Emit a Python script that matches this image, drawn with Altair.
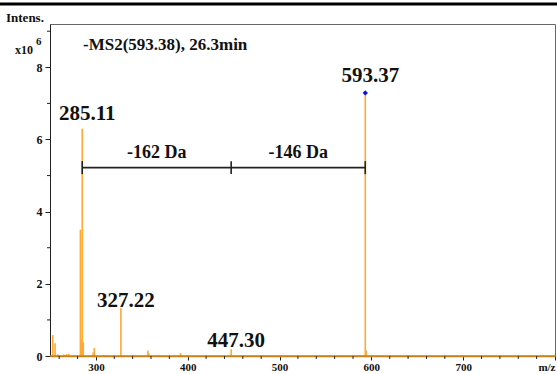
import altair as alt
import pandas as pd

# ---- data ----
mz = [253.0, 255.5, 258.5, 265.0, 268.0, 270.5, 283.1, 283.7, 284.4, 285.11, 286.2,
      297.0, 298.2, 309.0, 327.22, 341.0, 356.6, 357.6, 368.0, 392.1, 447.30, 593.37, 594.3]
intensity = [0.58, 0.35, 0.05, 0.04, 0.05, 0.06, 3.5, 0.45, 0.40, 6.3, 0.38,
             0.10, 0.22, 0.03, 1.33, 0.03, 0.15, 0.07, 0.03, 0.08, 0.19, 7.29, 0.15]

label_mz = [285.11, 327.22, 447.30, 593.37]
label_int = [6.3, 1.33, 0.19, 7.29]
label_text = ["285.11", "327.22", "447.30", "593.37"]
label_dy = [-9, -1, -2, -11]

precursor_mz = [593.37]
precursor_int = [7.29]

bracket_x = [285.11, 447.30, 593.37]
bracket_y = 5.22
bracket_labels = ["-162 Da", "-146 Da"]
bracket_label_x = [366.2, 520.3]

x_major = [300, 400, 500, 600, 700, 800]
x_minor = [260, 280, 320, 340, 360, 380, 420, 440, 460, 480, 520, 540, 560, 580,
           620, 640, 660, 680, 720, 740, 760, 780]
y_major = [0, 2, 4, 6, 8]
y_minor = [1, 3, 5, 7, 9]

FONT = "Liberation Serif"
ORANGE = "#FFA933"

xs = alt.Scale(domain=[250, 800], nice=False, zero=False)
ys = alt.Scale(domain=[0, 9.2], nice=False)

peaks = pd.DataFrame({"mz": mz, "i": intensity})

peak_layer = alt.Chart(peaks).mark_rule(color=ORANGE, strokeWidth=1.6).encode(
    x=alt.X("mz:Q", scale=xs, axis=alt.Axis(values=x_major, title=None,
             labelExpr="datum.value == 800 ? 'm/z' : datum.label", labelFlush=True,
             format="d")),
    y=alt.Y("i:Q", scale=ys, axis=alt.Axis(values=y_major, title=None, format="d")),
    y2=alt.datum(0),
)

baseline = alt.Chart(pd.DataFrame({"b": [0]})).mark_rule(color="#C8821A", strokeWidth=1.5).encode(
    y=alt.Y("b:Q", scale=ys)
)

diamond = alt.Chart(pd.DataFrame({"mz": precursor_mz, "i": precursor_int})).mark_point(
    shape="diamond", filled=True, color="#1010E0", size=28, opacity=1
).encode(x=alt.X("mz:Q", scale=xs), y=alt.Y("i:Q", scale=ys))

label_layers = []
for m, v, t, d in zip(label_mz, label_int, label_text, label_dy):
    label_layers.append(
        alt.Chart(pd.DataFrame({"mz": [m], "i": [v], "t": [t]})).mark_text(
            font=FONT, fontWeight="bold", fontSize=21, align="center",
            baseline="alphabetic", dx=5, dy=d, color="#111"
        ).encode(x=alt.X("mz:Q", scale=xs), y=alt.Y("i:Q", scale=ys), text="t:N")
    )

br_line = alt.Chart(pd.DataFrame({"a": [bracket_x[0]], "b": [bracket_x[-1]], "y": [bracket_y]})).mark_rule(
    color="#222", strokeWidth=1.6
).encode(x=alt.X("a:Q", scale=xs), x2="b:Q", y=alt.Y("y:Q", scale=ys))

br_ticks = alt.Chart(pd.DataFrame({"x": bracket_x, "y1": [bracket_y - 0.18] * 3,
                                   "y2": [bracket_y + 0.18] * 3})).mark_rule(
    color="#222", strokeWidth=1.6
).encode(x=alt.X("x:Q", scale=xs), y=alt.Y("y1:Q", scale=ys), y2="y2:Q")

br_text = alt.Chart(pd.DataFrame({"x": bracket_label_x, "y": [bracket_y] * 2, "t": bracket_labels})).mark_text(
    font=FONT, fontWeight="bold", fontSize=18, align="center", baseline="alphabetic", dy=-10, color="#111"
).encode(x=alt.X("x:Q", scale=xs), y=alt.Y("y:Q", scale=ys), text="t:N")

minor_x = alt.Chart(pd.DataFrame({"x": x_minor})).mark_rule(color="#222", strokeWidth=1).encode(
    x=alt.X("x:Q", scale=xs), y=alt.value(332), y2=alt.value(335)
)
minor_y = alt.Chart(pd.DataFrame({"y": y_minor})).mark_rule(color="#222", strokeWidth=1).encode(
    y=alt.Y("y:Q", scale=ys), x=alt.value(-3), x2=alt.value(0)
)

title_txt = alt.Chart(pd.DataFrame({"t": ["-MS2(593.38), 26.3min"]})).mark_text(
    font=FONT, fontWeight="bold", fontSize=17, align="left", baseline="alphabetic", color="#111"
).encode(text="t:N", x=alt.value(33), y=alt.value(26))

intens = alt.Chart(pd.DataFrame({"t": ["Intens."]})).mark_text(
    font=FONT, fontWeight="bold", fontSize=13, align="left", baseline="alphabetic", color="#111"
).encode(text="t:N", x=alt.value(-44), y=alt.value(-2))

x10 = alt.Chart(pd.DataFrame({"t": ["x10"]})).mark_text(
    font=FONT, fontWeight="bold", fontSize=12, align="left", baseline="alphabetic", color="#111"
).encode(text="t:N", x=alt.value(-35), y=alt.value(30))

exp6 = alt.Chart(pd.DataFrame({"t": ["6"]})).mark_text(
    font=FONT, fontWeight="bold", fontSize=11, align="left", baseline="alphabetic", color="#111"
).encode(text="t:N", x=alt.value(-14), y=alt.value(21))

topbar = alt.Chart(pd.DataFrame({"t": [0]})).mark_rule(color="#000", strokeWidth=3).encode(
    x=alt.value(-50), x2=alt.value(507), y=alt.value(-20)
)

chart = alt.layer(
    peak_layer, baseline, diamond, br_line, br_ticks, br_text, *label_layers,
    minor_x, minor_y, title_txt, intens, x10, exp6, topbar
).properties(
    width=505, height=332,
    autosize=alt.AutoSizeParams(type="none"),
    padding={"left": 50, "top": 24, "right": 2, "bottom": 18},
    background="white",
).configure_view(
    stroke="#666", strokeWidth=1
).configure_axis(
    grid=False, labelFont=FONT, labelFontWeight="bold", labelFontSize=12, labelColor="#111",
    domainColor="#222", tickColor="#222", tickSize=5, labelPadding=3
).configure_axisX(
    domainColor="#C8821A", domainWidth=1.5, tickSize=4, labelPadding=1, labelFontSize=11
)

chart.save("out.html", embed_options={"renderer": "svg", "actions": False})
